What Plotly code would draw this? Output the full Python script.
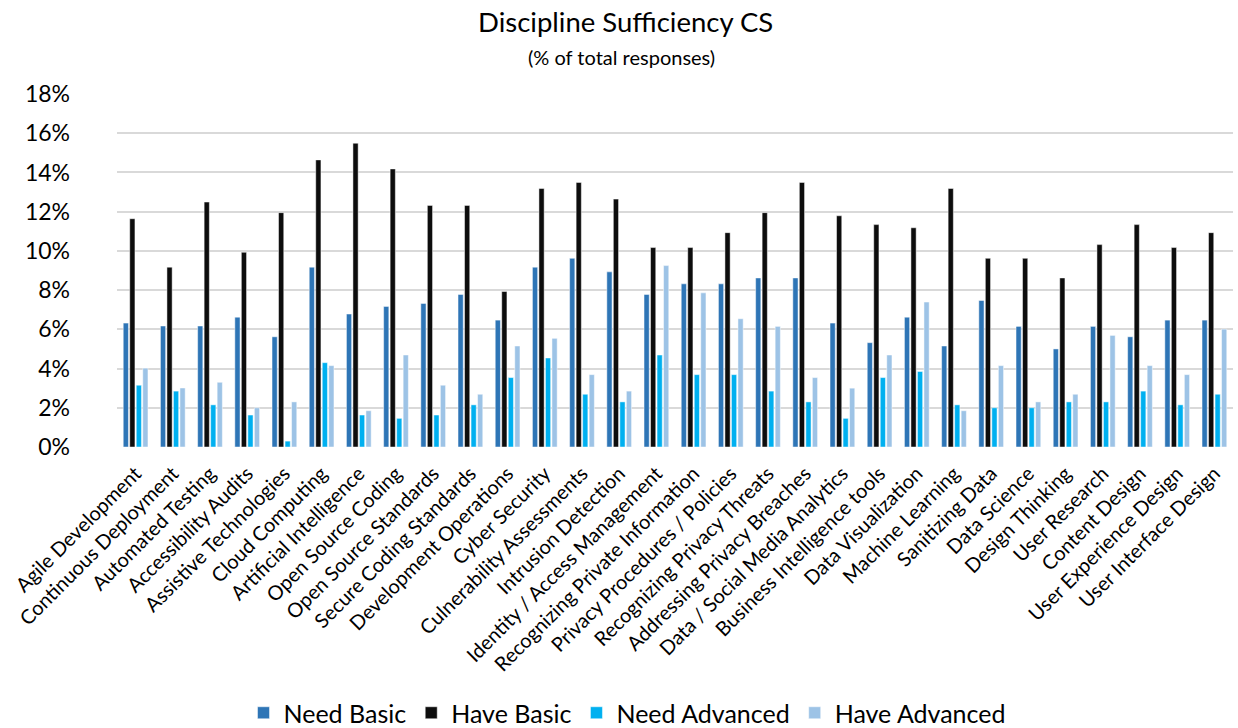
import plotly.graph_objects as go

categories = [
    "Agile Development", "Continuous Deployment", "Automated Testing",
    "Accessibility Audits", "Assistive Technologies", "Cloud Computing",
    "Artificial Intelligence", "Open Source Coding", "Open Source Standards",
    "Secure Coding Standards", "Development Operations", "Cyber Security",
    "Culnerability Assessments", "Intrusion Detection",
    "Identity / Access Management", "Recognizing Private Information",
    "Privacy Procedures / Policies", "Recognizing Privacy Threats",
    "Addressing Privacy Breaches", "Data / Social Media Analytics",
    "Business Intelligence tools", "Data Visualization", "Machine Learning",
    "Sanitizing Data", "Data Science", "Design Thinking", "User Research",
    "Content Design", "User Experience Design", "User Interface Design",
]

need_basic = [6.32, 6.17, 6.17, 6.62, 5.62, 9.17, 6.78, 7.17, 7.32, 7.78,
              6.47, 9.17, 9.62, 8.93, 7.78, 8.32, 8.32, 8.62, 8.62, 6.32,
              5.32, 6.62, 5.15, 7.47, 6.15, 5.00, 6.15, 5.62, 6.47, 6.47]
have_basic = [11.64, 9.17, 12.49, 9.93, 11.95, 14.64, 15.49, 14.18, 12.32, 12.32,
              7.93, 13.18, 13.49, 12.64, 10.17, 10.17, 10.93, 11.95, 13.49, 11.79,
              11.34, 11.18, 13.18, 9.62, 9.62, 8.62, 10.32, 11.34, 10.17, 10.93]
need_advanced = [3.15, 2.85, 2.15, 1.63, 0.30, 4.30, 1.63, 1.46, 1.63, 2.15,
                 3.54, 4.54, 2.69, 2.30, 4.69, 3.69, 3.69, 2.85, 2.30, 1.46,
                 3.54, 3.85, 2.15, 2.00, 2.00, 2.30, 2.30, 2.85, 2.15, 2.69]
have_advanced = [4.02, 3.01, 3.30, 2.00, 2.30, 4.15, 1.85, 4.69, 3.15, 2.69,
                 5.15, 5.54, 3.69, 2.85, 9.25, 7.86, 6.54, 6.15, 3.54, 3.00,
                 4.69, 7.39, 1.85, 4.15, 2.30, 2.69, 5.69, 4.15, 3.69, 6.01]

series = [
    ("Need Basic", need_basic, "#2E75B6"),
    ("Have Basic", have_basic, "#0D0D0D"),
    ("Need Advanced", need_advanced, "#00B0F0"),
    ("Have Advanced", have_advanced, "#9DC3E6"),
]

FONT = "Lato"
W, H = 1238, 728
TOP, BOTTOM = 94, 281
PLOT_H = H - TOP - BOTTOM

fig = go.Figure()
for name, vals, color in series:
    fig.add_trace(go.Bar(
        x=categories, y=vals, name=name,
        marker=dict(color=color, line=dict(color="rgba(255,255,255,0.6)", width=0.8)),
    ))

fig.update_layout(
    width=W, height=H,
    margin=dict(l=117, r=5, t=TOP, b=BOTTOM, autoexpand=False),
    paper_bgcolor="white", plot_bgcolor="white",
    barmode="group", bargap=0.3, bargroupgap=0.2,
    font=dict(family=FONT, color="#000000"),
    showlegend=True,
    legend=dict(
        orientation="h", x=0.457, xanchor="center",
        yref="container", y=1 - 713 / H, yanchor="middle",
        font=dict(size=25, family=FONT), itemwidth=30, traceorder="normal",
    ),
    annotations=[
        dict(text="Discipline Sufficiency CS", x=0.456, xref="paper",
             y=1 + (TOP - 22) / PLOT_H, yref="paper", yanchor="middle",
             showarrow=False, font=dict(size=27.5, family=FONT)),
        dict(text="(% of total responses)", x=0.452, xref="paper",
             y=1 + (TOP - 57) / PLOT_H, yref="paper", yanchor="middle",
             showarrow=False, font=dict(size=20, family=FONT)),
    ],
)

fig.update_yaxes(
    range=[0, 18], dtick=2, ticksuffix="%", showgrid=True,
    gridcolor="#D9D9D9", gridwidth=1.5, zeroline=False, automargin=False,
    tickfont=dict(size=23, family=FONT), ticks="", ticklabelstandoff=46,
)
fig.update_xaxes(
    tickangle=-45, tickfont=dict(size=20, family=FONT), showline=False,
    ticks="", ticklabelstandoff=10, automargin=False,
)

fig.write_html("out.html")
